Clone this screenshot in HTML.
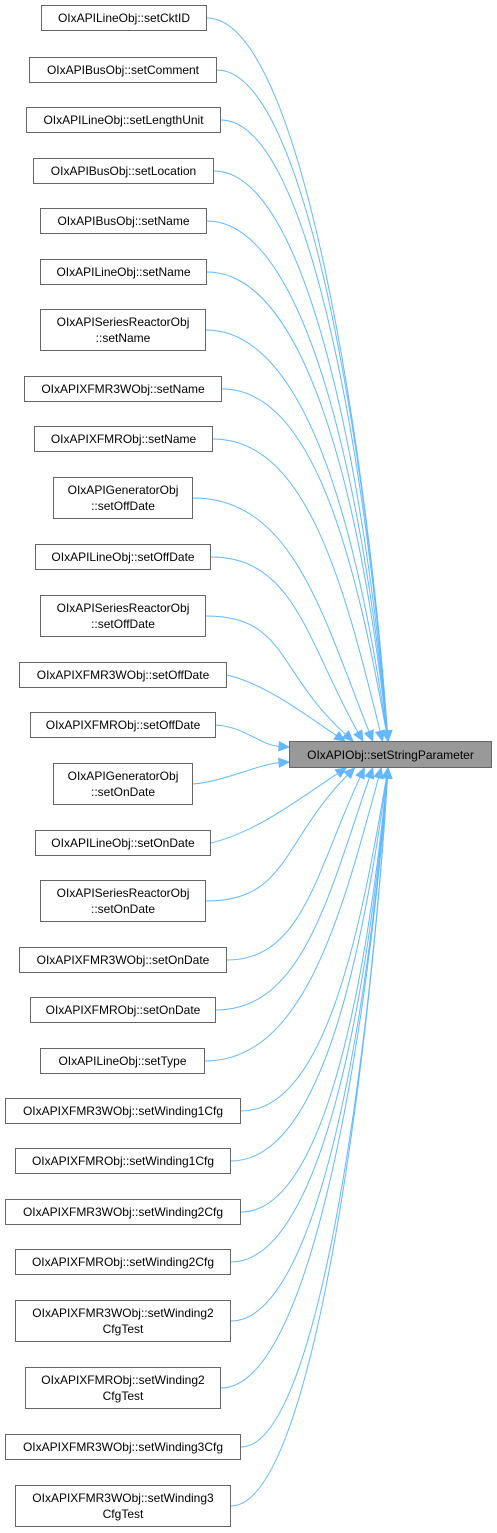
<!DOCTYPE html>
<html><head><meta charset="utf-8"><style>
body{margin:0;width:497px;height:1533px;background:#fff;position:relative;overflow:hidden;font-family:"Liberation Sans",Arial,sans-serif;}
.n{position:absolute;box-sizing:border-box;border:1px solid #666;background:#fff;font-size:12px;color:#000;text-align:center;display:flex;align-items:center;justify-content:center;line-height:16px;}
svg{position:absolute;left:0;top:0;}
</style></head><body>
<svg id="s" width="497" height="1533"></svg>
<div class="n" style="left:41px;top:5px;width:166px;height:26px">OIxAPILineObj::setCktID</div>
<div class="n" style="left:29px;top:57px;width:188px;height:26px">OIxAPIBusObj::setComment</div>
<div class="n" style="left:26px;top:107px;width:195px;height:26px">OIxAPILineObj::setLengthUnit</div>
<div class="n" style="left:33px;top:158px;width:181px;height:26px">OIxAPIBusObj::setLocation</div>
<div class="n" style="left:40px;top:208px;width:167px;height:26px">OIxAPIBusObj::setName</div>
<div class="n" style="left:40px;top:259px;width:167px;height:26px">OIxAPILineObj::setName</div>
<div class="n" style="left:40px;top:309px;width:166px;height:42px">OIxAPISeriesReactorObj<br>::setName</div>
<div class="n" style="left:24px;top:376px;width:198px;height:26px">OIxAPIXFMR3WObj::setName</div>
<div class="n" style="left:34px;top:426px;width:179px;height:26px">OIxAPIXFMRObj::setName</div>
<div class="n" style="left:53px;top:477px;width:140px;height:42px">OIxAPIGeneratorObj<br>::setOffDate</div>
<div class="n" style="left:35px;top:544px;width:176px;height:26px">OIxAPILineObj::setOffDate</div>
<div class="n" style="left:40px;top:595px;width:166px;height:42px">OIxAPISeriesReactorObj<br>::setOffDate</div>
<div class="n" style="left:19px;top:662px;width:208px;height:26px">OIxAPIXFMR3WObj::setOffDate</div>
<div class="n" style="left:30px;top:712px;width:186px;height:26px">OIxAPIXFMRObj::setOffDate</div>
<div class="n" style="left:53px;top:763px;width:140px;height:42px">OIxAPIGeneratorObj<br>::setOnDate</div>
<div class="n" style="left:35px;top:830px;width:176px;height:26px">OIxAPILineObj::setOnDate</div>
<div class="n" style="left:40px;top:880px;width:166px;height:42px">OIxAPISeriesReactorObj<br>::setOnDate</div>
<div class="n" style="left:19px;top:947px;width:208px;height:26px">OIxAPIXFMR3WObj::setOnDate</div>
<div class="n" style="left:30px;top:997px;width:186px;height:26px">OIxAPIXFMRObj::setOnDate</div>
<div class="n" style="left:40px;top:1048px;width:165px;height:26px">OIxAPILineObj::setType</div>
<div class="n" style="left:5px;top:1098px;width:236px;height:26px">OIxAPIXFMR3WObj::setWinding1Cfg</div>
<div class="n" style="left:15px;top:1148px;width:216px;height:26px">OIxAPIXFMRObj::setWinding1Cfg</div>
<div class="n" style="left:5px;top:1199px;width:236px;height:26px">OIxAPIXFMR3WObj::setWinding2Cfg</div>
<div class="n" style="left:15px;top:1249px;width:216px;height:26px">OIxAPIXFMRObj::setWinding2Cfg</div>
<div class="n" style="left:15px;top:1300px;width:216px;height:42px">OIxAPIXFMR3WObj::setWinding2<br>CfgTest</div>
<div class="n" style="left:25px;top:1367px;width:196px;height:42px">OIxAPIXFMRObj::setWinding2<br>CfgTest</div>
<div class="n" style="left:5px;top:1434px;width:236px;height:26px">OIxAPIXFMR3WObj::setWinding3Cfg</div>
<div class="n" style="left:15px;top:1485px;width:216px;height:42px">OIxAPIXFMR3WObj::setWinding3<br>CfgTest</div>
<div class="n" style="left:289px;top:741px;width:203px;height:27px;background:#999;">OIxAPIObj::setStringParameter</div>
<script>
var nodes=[[207,18],[217,70],[221,120],[214,171],[207,221],[207,272],[206,330],[222,389],[213,439],[193,498],[211,557],[206,616],[227,675],[216,725],[193,784],[211,843],[206,901],[227,960],[216,1010],[205,1061],[241,1111],[231,1161],[241,1212],[231,1262],[231,1321],[221,1388],[241,1447],[231,1506]];
var s='',c=754;
nodes.forEach(function(n){
 var x=n[0],y=n[1],d=Math.abs(y-c),up=y<c,ex,ey,p1x,p1y,p2x,p2y;
 if(d<45){ex=289;ey=up?747:762;p1x=x+30;p1y=y+(ey-y)*0.1;p2x=ex-30;p2y=ey-(ey-y)*0.1;}
 else if(d<120){ex=335+d/8;ey=up?741:768;p1x=x+(ex-x)*0.35;p1y=y+(ey-y)*0.15;p2x=x+(ex-x)*0.7;p2y=y+(ey-y)*0.65;}
 else{ex=Math.min(388,330+d/6);ey=up?741:768;
  p1x=x+(ex-x)*0.55;p1y=y;p2x=ex-Math.max(2,(ex-x)*0.6*Math.min(1,120/d));p2y=ey+(up?-1:1)*Math.min(d*0.5,250);}
 var dx=ex-p2x,dy=ey-p2y,L=Math.hypot(dx,dy);dx/=L;dy/=L;
 var bx=ex-dx*10,by=ey-dy*10,px=-dy*4.5,py=dx*4.5;
 s+='<path d="M'+x+','+y+' C'+p1x+','+p1y+' '+p2x+','+p2y+' '+bx+','+by+'" fill="none" stroke="#63b8ff" stroke-width="1"/>';
 s+='<path d="M'+(bx+px)+','+(by+py)+' L'+ex+','+ey+' L'+(bx-px)+','+(by-py)+'Z" fill="#63b8ff" stroke="#63b8ff"/>';
});
document.getElementById('s').innerHTML=s;
</script>
</body></html>
